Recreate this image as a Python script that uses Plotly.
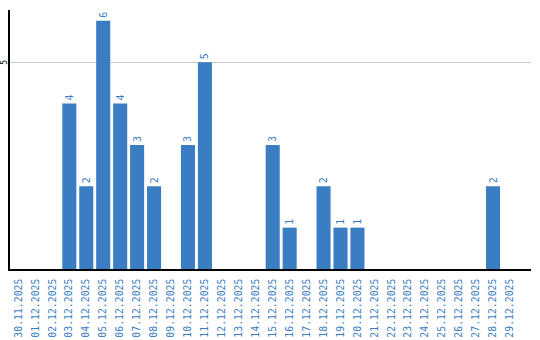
import plotly.graph_objects as go

dates = ["30.11.2025", "01.12.2025", "02.12.2025", "03.12.2025", "04.12.2025", "05.12.2025",
         "06.12.2025", "07.12.2025", "08.12.2025", "09.12.2025", "10.12.2025", "11.12.2025",
         "12.12.2025", "13.12.2025", "14.12.2025", "15.12.2025", "16.12.2025", "17.12.2025",
         "18.12.2025", "19.12.2025", "20.12.2025", "21.12.2025", "22.12.2025", "23.12.2025",
         "24.12.2025", "25.12.2025", "26.12.2025", "27.12.2025", "28.12.2025", "29.12.2025"]
counts = [0, 0, 0, 4, 2, 6, 4, 3, 2, 0, 3, 5, 0, 0, 0, 3, 1, 0, 2, 1, 1, 0, 0, 0, 0, 0, 0, 0, 2, 0]
y_ticks = [5]

blue = "#3a7dc3"
labels = [str(v) if v else "" for v in counts]

fig = go.Figure(go.Bar(
    x=dates, y=counts, marker_color=blue, marker_line_width=0,
    text=labels, textposition="outside", textangle=-90,
    textfont=dict(color=blue, size=10, family="DejaVu Sans Mono"),
    cliponaxis=False,
))

fig.update_layout(
    width=540, height=340,
    margin=dict(l=10, r=9, t=10, b=71),
    plot_bgcolor="white", paper_bgcolor="white",
    bargap=0.17, showlegend=False,
    xaxis=dict(type="category", tickangle=-90, showline=True, linecolor="black", linewidth=1.5,
               ticks="", ticklen=0, showgrid=False, automargin=False, range=[-0.5, 30.24],
               ticklabelstandoff=4,
               tickfont=dict(color=blue, size=9.8, family="DejaVu Sans Mono")),
    yaxis=dict(range=[0, 6.26], tickvals=y_ticks, showticklabels=False,
               showline=True, linecolor="black", linewidth=1.5, ticks="",
               showgrid=True, gridcolor="#c8c8c8", gridwidth=1, zeroline=False,
               automargin=False),
)

for t in y_ticks:
    fig.add_annotation(xref="paper", yref="y", x=0, y=t, text=str(t), showarrow=False,
                       textangle=-90, xanchor="center", yanchor="middle", xshift=-5.5,
                       borderpad=0,
                       font=dict(color="black", size=8, family="DejaVu Sans Mono"))

fig.write_html("out.html")
